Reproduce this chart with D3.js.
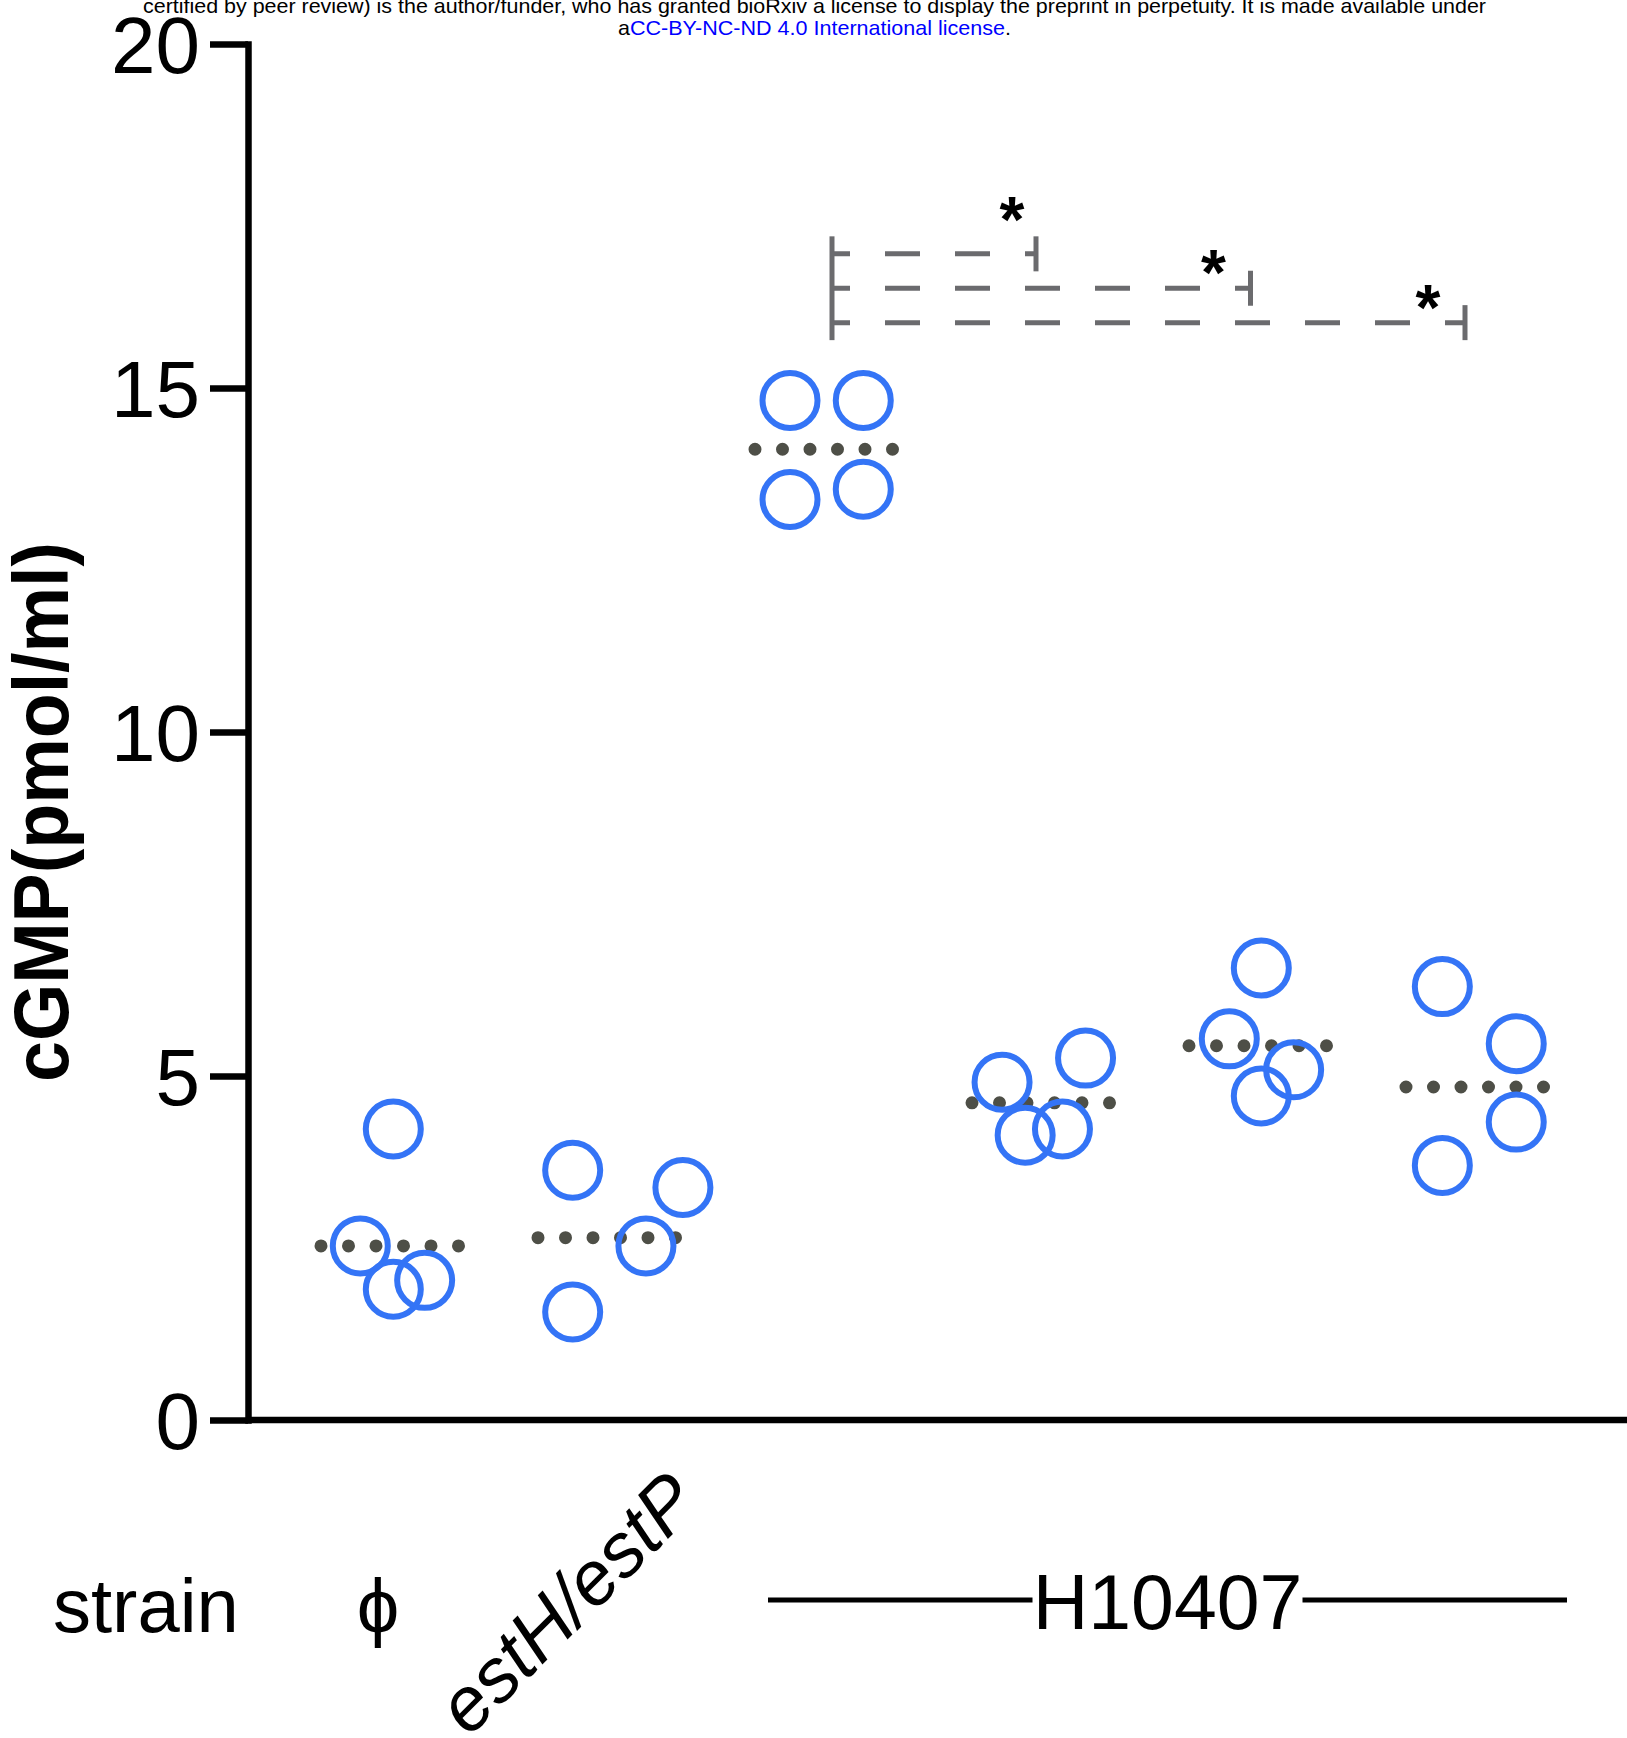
<!DOCTYPE html>
<html>
<head>
<meta charset="utf-8">
<script src="https://cdn.jsdelivr.net/npm/d3@7"></script>
<style>
  body { margin: 0; background: #fff; }
  svg { display: block; font-family: "Liberation Sans", Arial, sans-serif; }
</style>
</head>
<body>
<div id="chart"></div>
<script>
const width = 1627;
const height = 1738;

// groups, left to right
const categories = ["ϕ", "estH/estP", "H10407 a", "H10407 b", "H10407 c", "H10407 d"];
// replicate cGMP values (pmol/ml) per group
const replicates = [
  [4.23, 2.53, 1.90, 2.03],
  [3.63, 3.38, 2.53, 1.57],
  [14.82, 14.82, 13.38, 13.53],
  [4.91, 5.26, 4.14, 4.23],
  [6.57, 5.54, 5.09, 4.71],
  [6.30, 5.47, 4.33, 3.70],
];
// horizontal scatter of each replicate, in symbol widths
const jitter = [
  [0.1, -0.9, 0.1, 1.05],
  [-1.04, 2.3, 1.18, -1.04],
  [-1.03, 1.19, -1.03, 1.19],
  [-1.18, 1.35, -0.48, 0.65],
  [0.1, -0.87, 1.08, 0.1],
  [-0.99, 1.25, 1.25, -0.99],
];
const means = [2.53, 2.65, 14.11, 4.61, 5.44, 4.84];
const yTicks = [0, 5, 10, 15, 20];

// significance brackets: from group index -> to group index
const comparisons = [[2, 3], [2, 4], [2, 5]];
const comparisonLevels = [16.95, 16.45, 15.95];
const comparisonLabels = ["*", "*", "*"];

const circleColor = "#3474f6";
const meanColor = "#4e4f47";
const bracketColor = "#6b6b6e";

const svg = d3
  .select("#chart")
  .append("svg")
  .attr("width", width)
  .attr("height", height);

const axisX = 248;
const x = d3.scalePoint().domain(categories).range([390, 1475]);
const y = d3.scaleLinear().domain([0, 20]).range([1420, 44]);
const jitterUnit = 33;

// preprint banner
const banner = svg.append("g").attr("font-size", 21);
banner
  .append("text")
  .attr("x", 143)
  .attr("y", 13)
  .attr("textLength", 1343)
  .attr("lengthAdjust", "spacingAndGlyphs")
  .text("certified by peer review) is the author/funder, who has granted bioRxiv a license to display the preprint in perpetuity. It is made available under");
const line2 = banner
  .append("text")
  .attr("x", 618)
  .attr("y", 35)
  .attr("textLength", 393)
  .attr("lengthAdjust", "spacingAndGlyphs");
line2.append("tspan").text("a");
line2.append("tspan").attr("fill", "#0000ff").text("CC-BY-NC-ND 4.0 International license");
line2.append("tspan").text(".");

// y axis
const yAxis = svg
  .append("g")
  .attr("transform", `translate(${axisX},0)`)
  .call(
    d3.axisLeft(y).tickValues(yTicks).tickSize(38).tickSizeOuter(0).tickPadding(10)
  );
yAxis.select(".domain").attr("stroke-width", 6.5).attr("stroke-linecap", "square");
yAxis.selectAll(".tick line").attr("stroke-width", 6.5);
yAxis
  .selectAll(".tick text")
  .attr("font-size", 80)
  .attr("font-family", "Liberation Sans, Arial, sans-serif")
  .attr("dy", "0.36em");

// x axis line
svg
  .append("line")
  .attr("x1", axisX)
  .attr("x2", width)
  .attr("y1", y(0))
  .attr("y2", y(0))
  .attr("stroke", "#000")
  .attr("stroke-width", 6.5);

// y title
svg
  .append("text")
  .attr("transform", `translate(68,${(y(0) + y(20)) / 2 + 80}) rotate(-90)`)
  .attr("text-anchor", "middle")
  .attr("font-size", 78)
  .attr("font-weight", "bold")
  .attr("textLength", 540)
  .attr("lengthAdjust", "spacingAndGlyphs")
  .text("cGMP(pmol/ml)");

// means as dotted lines
svg
  .append("g")
  .selectAll("line")
  .data(means)
  .join("line")
  .attr("x1", (d, i) => x(categories[i]) - 69)
  .attr("x2", (d, i) => x(categories[i]) + 69)
  .attr("y1", (d) => y(d))
  .attr("y2", (d) => y(d))
  .attr("stroke", meanColor)
  .attr("stroke-width", 13)
  .attr("stroke-linecap", "round")
  .attr("stroke-dasharray", "0 27.5");

// replicate points
const points = replicates.flatMap((vals, i) =>
  vals.map((v, j) => ({ cat: categories[i], value: v, off: jitter[i][j] }))
);
svg
  .append("g")
  .selectAll("circle")
  .data(points)
  .join("circle")
  .attr("cx", (d) => x(d.cat) + d.off * jitterUnit)
  .attr("cy", (d) => y(d.value))
  .attr("r", 27.5)
  .attr("fill", "none")
  .attr("stroke", circleColor)
  .attr("stroke-width", 6);

// significance brackets
const brackets = svg.append("g").attr("stroke", bracketColor).attr("stroke-width", 5);
const leftX = x(categories[comparisons[0][0]]) + 8;
const tickHalf = 17.5;
brackets
  .append("line")
  .attr("x1", leftX)
  .attr("x2", leftX)
  .attr("y1", y(d3.max(comparisonLevels)) - tickHalf)
  .attr("y2", y(d3.min(comparisonLevels)) + tickHalf);
comparisons.forEach(([a, b], i) => {
  const yy = y(comparisonLevels[i]);
  const rightX = x(categories[b]) - 5 - (b - a - 1) * 2.5;
  brackets
    .append("line")
    .attr("x1", leftX)
    .attr("x2", rightX)
    .attr("y1", yy)
    .attr("y2", yy)
    .attr("stroke-dasharray", "35 35")
    .attr("stroke-dashoffset", 17);
  brackets
    .append("line")
    .attr("x1", rightX)
    .attr("x2", rightX)
    .attr("y1", yy - tickHalf)
    .attr("y2", yy + tickHalf);
  svg
    .append("text")
    .attr("x", rightX - (i === 0 ? 24 : 37))
    .attr("y", yy - (i === 0 ? 48 : 29) + 36)
    .attr("text-anchor", "middle")
    .attr("font-size", 64)
    .attr("font-weight", "bold")
    .text(comparisonLabels[i]);
});

// strain labels
const labels = svg.append("g").attr("font-size", 76);
labels.append("text").attr("x", 53).attr("y", 1632).text("strain");
labels
  .append("text")
  .attr("x", x(categories[0]) - 12)
  .attr("y", 1632)
  .attr("text-anchor", "middle")
  .text("ϕ");
labels
  .append("text")
  .attr("transform", `translate(${x(categories[1]) + 95},1505) rotate(-45)`)
  .attr("text-anchor", "end")
  .attr("font-style", "italic")
  .text("estH/estP");

const hLeft = x(categories[2]) - 56;
const hRight = x(categories[5]) + 92;
const hMid = (hLeft + hRight) / 2;
labels
  .append("text")
  .attr("x", hMid)
  .attr("y", 1629)
  .attr("text-anchor", "middle")
  .attr("font-size", 77)
  .text("H10407");
labels
  .append("line")
  .attr("x1", hLeft)
  .attr("x2", hMid - 135)
  .attr("y1", 1600)
  .attr("y2", 1600)
  .attr("stroke", "#000")
  .attr("stroke-width", 5);
labels
  .append("line")
  .attr("x1", hMid + 135)
  .attr("x2", hRight)
  .attr("y1", 1600)
  .attr("y2", 1600)
  .attr("stroke", "#000")
  .attr("stroke-width", 5);
</script>
</body>
</html>
